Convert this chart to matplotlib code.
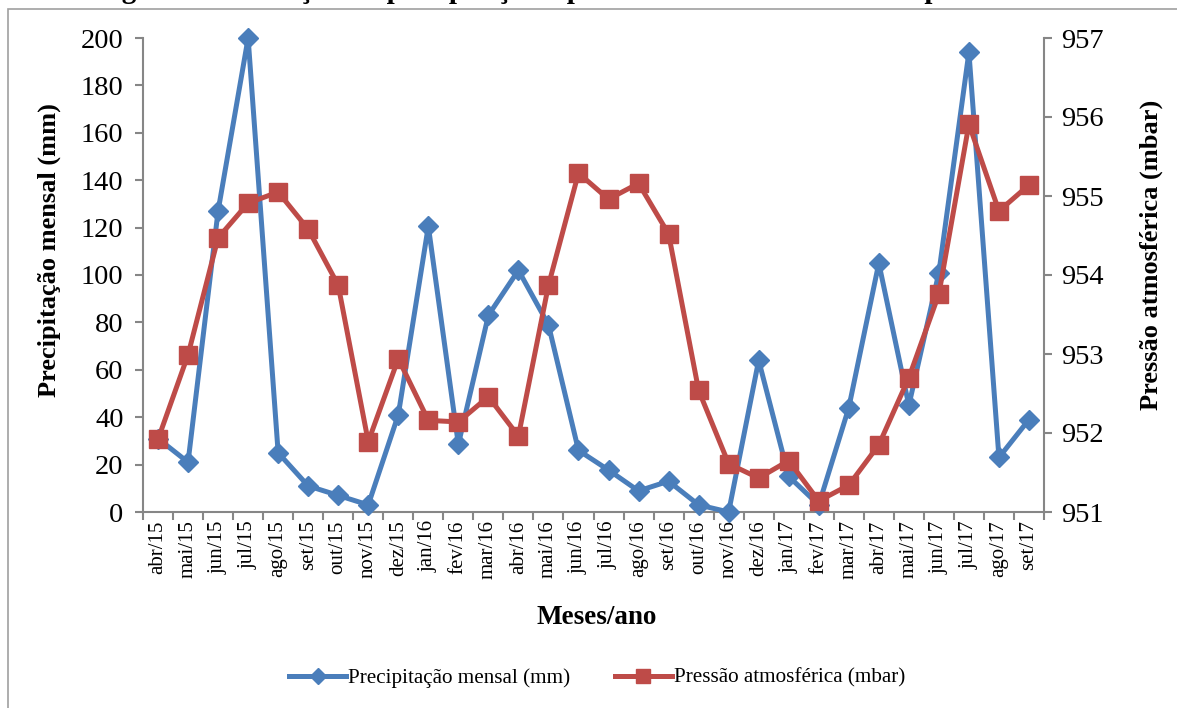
import matplotlib
matplotlib.use("Agg")
import matplotlib.pyplot as plt
from matplotlib.patches import Rectangle
from matplotlib.lines import Line2D

months = ["abr/15", "mai/15", "jun/15", "jul/15", "ago/15", "set/15", "out/15", "nov/15",
          "dez/15", "jan/16", "fev/16", "mar/16", "abr/16", "mai/16", "jun/16", "jul/16",
          "ago/16", "set/16", "out/16", "nov/16", "dez/16", "jan/17", "fev/17", "mar/17",
          "abr/17", "mai/17", "jun/17", "jul/17", "ago/17", "set/17"]

precipitacao = [31, 21, 127, 200, 25, 11, 7, 3, 41, 120.6, 28.5, 83, 102, 79, 26, 17.7,
                8.9, 13, 3, 0, 64, 15, 3, 44, 105, 45, 101, 194, 23, 39]

pressao = [951.92, 952.99, 954.47, 954.91, 955.05, 954.58, 953.87, 951.89, 952.94, 952.16,
           952.14, 952.46, 951.96, 953.87, 955.29, 954.96, 955.16, 954.52, 952.54, 951.61,
           951.43, 951.65, 951.14, 951.34, 951.85, 952.70, 953.76, 955.91, 954.81, 955.14]

blue = "#4A7EBB"
red = "#BE4B48"
gray = "#868686"
font = "Liberation Serif"

plt.rcParams["font.family"] = [font, "DejaVu Serif"]

fig = plt.figure(figsize=(11.77, 7.08), dpi=100)
W, H = 1177, 708
left, right, top, bottom = 143, 1044, 38, 512
ax = fig.add_axes([left / W, 1 - bottom / H, (right - left) / W, (bottom - top) / H])
ax2 = ax.twinx()

x = list(range(len(months)))
ax.plot(x, precipitacao, color=blue, lw=3.6, marker="D", markersize=10,
        markeredgecolor=blue, markerfacecolor=blue, zorder=3, clip_on=False)
ax2.plot(x, pressao, color=red, lw=3.6, marker="s", markersize=13,
         markeredgecolor=red, markerfacecolor=red, zorder=3, clip_on=False)

ax.set_xlim(-0.5, len(months) - 0.5)
ax.set_ylim(0, 200)
ax2.set_ylim(951, 957)
ax.set_yticks(range(0, 201, 20))
ax2.set_yticks(range(951, 958))

ax.set_xticks(x)
ax.set_xticklabels(months, rotation=90, fontsize=15)
ax.set_xticks([i - 0.5 for i in range(len(months) + 1)], minor=True)
ax.tick_params(axis="x", which="major", length=0, pad=6)
ax.tick_params(axis="x", which="minor", length=6, color=gray, width=1.5, direction="out")
ax.tick_params(axis="y", length=6, color=gray, width=1.5, labelsize=20.5, pad=8)
ax2.tick_params(axis="y", length=6, color=gray, width=1.5, labelsize=20.5, pad=6)

for a in (ax, ax2):
    a.spines["top"].set_visible(False)
    for s in ("left", "right", "bottom"):
        a.spines[s].set_color(gray)
        a.spines[s].set_linewidth(1.5)
ax2.spines["left"].set_visible(False)
ax2.spines["bottom"].set_visible(False)
ax.spines["right"].set_visible(False)

ax.set_ylabel("Precipitação mensal (mm)", fontsize=19, fontweight="bold")
ax.yaxis.set_label_coords((61 - left) / (right - left), (bottom - 250) / (bottom - top))
ax2.set_ylabel("Pressão atmosférica (mbar)", fontsize=19, fontweight="bold")
ax2.yaxis.set_label_coords((1140 - left) / (right - left), (bottom - 255) / (bottom - top))
fig.text(597 / W, 1 - 618 / H, "Meses/ano", fontsize=19.5, fontweight="bold",
         ha="center", va="center")

handles = [Line2D([0], [0], color=blue, lw=3.6, marker="D", markersize=8),
           Line2D([0], [0], color=red, lw=3.6, marker="s", markersize=10)]
fig.legend(handles, ["Precipitação mensal (mm)", "Pressão atmosférica (mbar)"],
           loc="center", bbox_to_anchor=(597 / W, 1 - 678 / H), ncol=2, frameon=False,
           fontsize=15.2, handlelength=2.7, columnspacing=2.1, handletextpad=0.1)

fig.patches.append(Rectangle((8 / W, -0.01), 1.1, 1 - 9 / H + 0.01, transform=fig.transFigure,
                             fill=False, edgecolor="#A0A0A0", lw=1.2))
fig.text(0.5, 1 + 9 / H, "Figura 1 – Variação da precipitação e pressão atmosférica em Campina Grande",
         fontsize=21, fontweight="bold", ha="center", va="center")

fig.savefig("out.png", dpi=100)
